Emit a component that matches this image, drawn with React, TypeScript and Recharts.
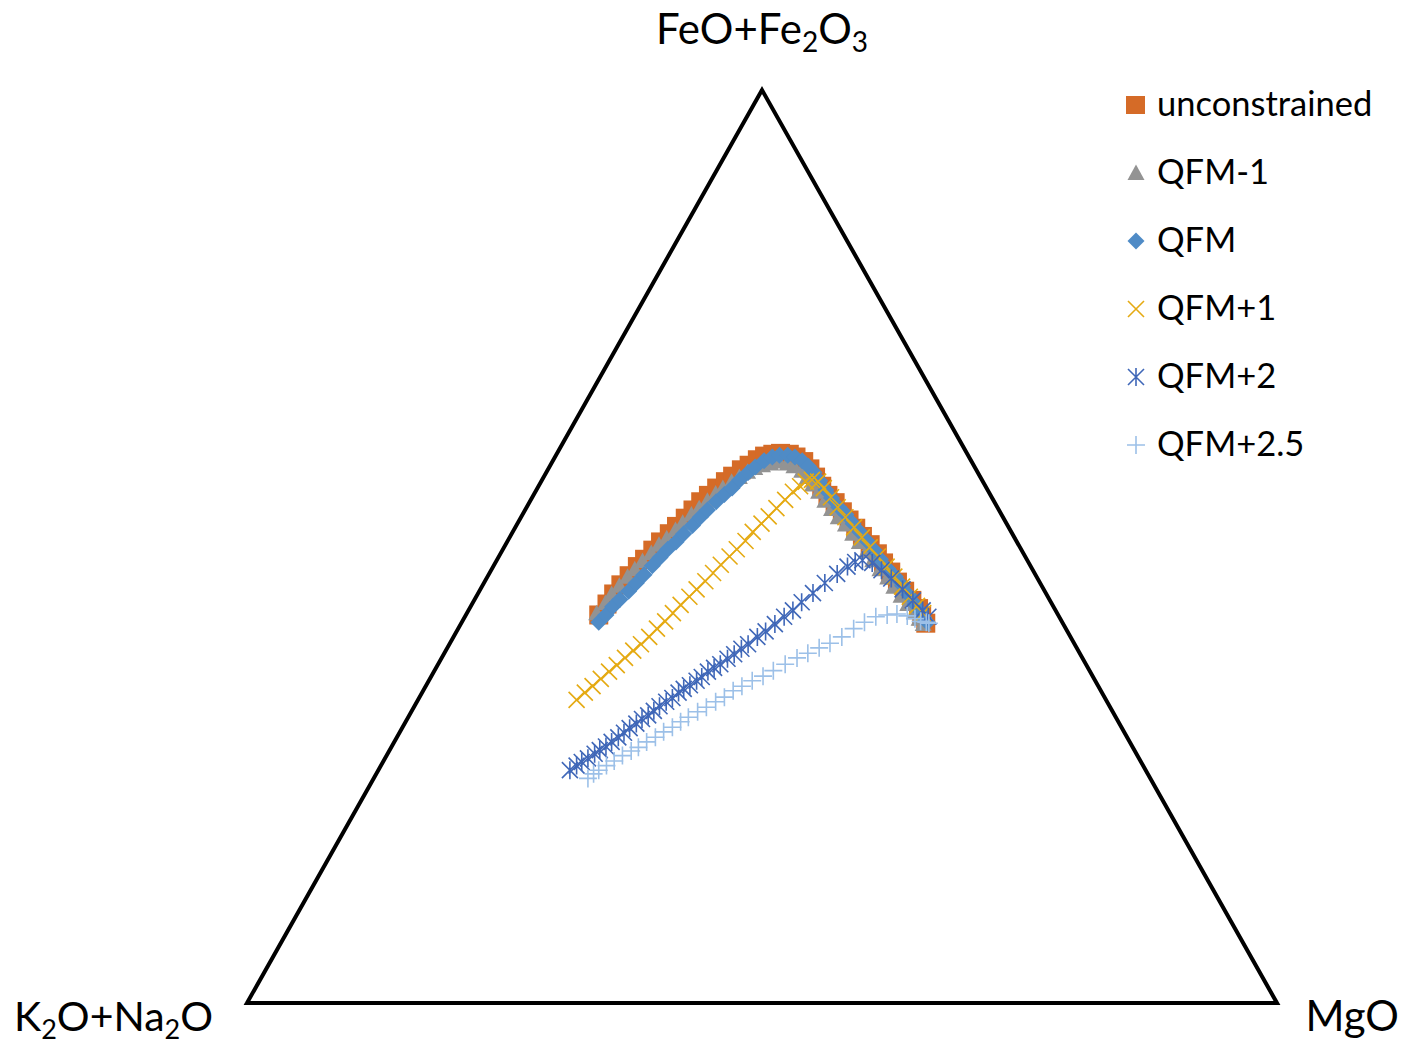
import React from 'react';
import { ScatterChart, Scatter, XAxis, YAxis } from 'recharts';

// Each point: [FeO+Fe2O3, MgO] in wt% of the AFM total; K2O+Na2O is the rest.
type Pt = [number, number];

const apexes: Pt[] = [[0, 0], [100, 0], [0, 100], [0, 0], [100, 0]];

const unconstrained: Pt[] = [
  [42.5, 12.9], [43.7, 13.1], [44.8, 13.2], [45.8, 13.4], [46.8, 13.7], [47.8, 14.0], [48.6, 14.3],
  [49.6, 14.6], [50.5, 14.9], [51.4, 15.3], [52.2, 15.6], [53.1, 16.0], [54.0, 16.3], [54.9, 16.6],
  [55.6, 17.0], [56.4, 17.4], [57.1, 17.9], [57.7, 18.3], [58.4, 18.8], [58.9, 19.3], [59.5, 19.8],
  [59.9, 20.3], [60.1, 21.0], [60.2, 21.7], [60.1, 22.6], [59.8, 23.4], [59.3, 24.4], [58.5, 25.4],
  [57.6, 26.4], [56.6, 27.5], [55.6, 28.6], [54.8, 29.7], [53.8, 30.9], [52.9, 32.0], [52.0, 33.1],
  [51.1, 34.2], [50.2, 35.4], [49.2, 36.6], [48.2, 37.7], [47.2, 38.9], [46.1, 40.1], [45.1, 41.3],
  [44.1, 42.5], [43.2, 43.6], [42.4, 44.3], [41.6, 45.1],
];

const qfmMinus1: Pt[] = [
  [42.7, 12.6], [43.8, 12.9], [44.8, 13.0], [45.7, 13.3], [46.7, 13.6], [47.5, 13.9], [48.4, 14.2],
  [49.3, 14.6], [50.2, 14.9], [50.9, 15.3], [51.8, 15.7], [52.6, 16.0], [53.5, 16.4], [54.2, 16.8],
  [55.0, 17.2], [55.8, 17.6], [56.4, 18.0], [57.1, 18.5], [57.6, 19.0], [58.2, 19.5], [58.6, 20.0],
  [58.9, 20.6], [59.1, 21.3], [59.3, 22.0], [59.1, 22.9], [58.8, 23.7], [58.3, 24.7], [57.6, 25.6],
  [56.8, 26.5], [56.0, 27.5], [55.0, 28.6], [54.1, 29.7], [53.2, 30.8], [52.4, 31.9], [51.4, 33.1],
  [50.5, 34.2], [49.5, 35.4], [48.5, 36.5], [47.5, 37.7], [46.6, 38.9], [45.6, 40.0], [44.6, 41.2],
  [43.7, 42.3], [42.8, 43.4], [42.1, 44.2], [41.5, 44.9],
];

const qfm: Pt[] = [
  [41.7, 13.3], [42.5, 13.6], [43.4, 13.8], [44.2, 14.1], [45.1, 14.5], [46.0, 14.8], [46.9, 15.1],
  [47.9, 15.4], [48.8, 15.7], [49.7, 16.0], [50.5, 16.4], [51.4, 16.7], [52.3, 17.1], [53.2, 17.4],
  [54.0, 17.7], [54.9, 18.1], [55.7, 18.5], [56.4, 18.9], [57.3, 19.2], [58.1, 19.6], [58.7, 20.0],
  [59.4, 20.5], [59.8, 21.1], [60.0, 21.7], [60.0, 22.5], [59.8, 23.3], [59.4, 24.2], [58.8, 25.1],
  [58.1, 26.0], [57.2, 27.0], [56.2, 28.1], [55.3, 29.1], [54.3, 30.3], [53.5, 31.4], [52.5, 32.6],
  [51.6, 33.7], [50.6, 34.9], [49.6, 36.1], [48.6, 37.2], [47.6, 38.4], [46.7, 39.6], [45.7, 40.8],
  [44.7, 41.9], [43.7, 43.0], [42.9, 43.9], [42.2, 44.6], [41.7, 45.2],
];

const qfmPlus1: Pt[] = [
  [33.2, 15.4], [34.0, 15.8], [34.7, 16.2], [35.5, 16.6], [36.3, 17.0], [37.0, 17.4], [37.8, 17.8],
  [38.6, 18.2], [39.3, 18.6], [40.1, 19.0], [41.0, 19.3], [41.8, 19.7], [42.7, 20.0], [43.6, 20.3],
  [44.5, 20.7], [45.3, 21.0], [46.2, 21.4], [47.1, 21.7], [48.0, 22.0], [48.9, 22.4], [49.7, 22.7],
  [50.6, 23.1], [51.6, 23.3], [52.5, 23.7], [53.3, 24.0], [54.2, 24.3], [55.1, 24.7], [56.0, 25.0],
  [56.6, 25.4], [57.1, 25.7], [57.3, 26.2], [57.1, 26.9], [56.4, 27.8], [55.4, 29.0], [54.3, 30.2],
  [53.2, 31.5], [52.1, 32.9], [51.0, 34.2], [49.9, 35.5], [48.9, 36.8], [47.8, 38.2], [46.7, 39.5],
  [45.6, 40.8], [44.5, 42.1], [43.5, 43.3], [42.7, 44.3],
];

const qfmPlus2: Pt[] = [
  [25.5, 18.6], [26.0, 19.0], [26.4, 19.3], [26.8, 19.7], [27.3, 20.1], [27.7, 20.4], [28.1, 20.8],
  [28.6, 21.1], [29.1, 21.5], [29.6, 21.8], [30.1, 22.1], [30.6, 22.5], [31.1, 22.8], [31.5, 23.2],
  [32.0, 23.5], [32.5, 23.8], [33.0, 24.2], [33.4, 24.6], [34.0, 24.9], [34.4, 25.2], [34.8, 25.6],
  [35.3, 26.0], [35.7, 26.3], [36.3, 26.6], [36.7, 27.0], [37.1, 27.4], [37.7, 27.8], [38.2, 28.2],
  [38.8, 28.6], [39.3, 29.0], [40.1, 29.5], [40.7, 30.0], [41.5, 30.5], [42.3, 31.0], [43.0, 31.5],
  [43.9, 31.9], [44.9, 32.5], [46.0, 33.1], [47.0, 33.8], [47.8, 34.4], [48.3, 34.9], [48.5, 35.5],
  [48.2, 36.6], [47.4, 37.9], [46.5, 39.3], [45.3, 41.0], [44.1, 42.6], [43.0, 44.1], [42.3, 45.0],
];

const qfmPlus25: Pt[] = [
  [24.6, 20.8], [25.1, 21.1], [25.5, 21.4], [26.0, 21.9], [26.5, 22.4], [27.1, 22.9], [27.6, 23.5],
  [28.0, 24.0], [28.6, 24.5], [29.1, 25.1], [29.7, 25.6], [30.2, 26.2], [30.8, 26.7], [31.3, 27.2],
  [31.9, 27.8], [32.4, 28.4], [33.0, 29.0], [33.5, 29.6], [34.2, 30.1], [34.7, 30.7], [35.3, 31.4],
  [35.8, 32.2], [36.4, 32.9], [37.1, 33.7], [37.8, 34.5], [38.3, 35.3], [38.9, 36.1], [39.4, 36.9],
  [40.1, 37.7], [41.0, 38.4], [41.7, 39.1], [42.3, 39.9], [42.5, 40.9], [42.6, 41.8], [42.4, 42.9],
  [42.1, 43.8], [41.8, 44.5], [41.7, 45.1], [41.6, 45.4],
];

type MarkKind = 'square' | 'triangle' | 'diamond' | 'x' | 'star' | 'plus';

const series: { name: string; data: Pt[]; color: string; mark: MarkKind }[] = [
  { name: 'unconstrained', data: unconstrained, color: '#D56B27', mark: 'square' },
  { name: 'QFM-1', data: qfmMinus1, color: '#939393', mark: 'triangle' },
  { name: 'QFM', data: qfm, color: '#4F8BC6', mark: 'diamond' },
  { name: 'QFM+1', data: qfmPlus1, color: '#E5AA12', mark: 'x' },
  { name: 'QFM+2', data: qfmPlus2, color: '#3F67B8', mark: 'star' },
  { name: 'QFM+2.5', data: qfmPlus25, color: '#9CC0E8', mark: 'plus' },
];

// ternary -> cartesian: MgO apex at right, FeO+Fe2O3 apex on top
const toXY = (pts: Pt[]) => pts.map(([f, m]) => ({ x: m + f / 2, y: f }));

const FONT = 'Lato, "Open Sans", sans-serif';

const Mark = ({ kind, cx, cy, color }: { kind: MarkKind; cx: number; cy: number; color: string }) => {
  switch (kind) {
    case 'square':
      return <rect x={cx - 9.5} y={cy - 9.5} width={19} height={19} fill={color} />;
    case 'triangle':
      return <polygon points={`${cx},${cy - 8.5} ${cx + 8.5},${cy + 7} ${cx - 8.5},${cy + 7}`} fill={color} />;
    case 'diamond':
      return <polygon points={`${cx},${cy - 8.5} ${cx + 8.5},${cy} ${cx},${cy + 8.5} ${cx - 8.5},${cy}`} fill={color} />;
    case 'x':
      return (
        <path d={`M${cx - 8},${cy - 8}L${cx + 8},${cy + 8}M${cx + 8},${cy - 8}L${cx - 8},${cy + 8}`}
          stroke={color} strokeWidth={1.6} fill="none" />
      );
    case 'star':
      return (
        <path d={`M${cx - 8},${cy - 8}L${cx + 8},${cy + 8}M${cx + 8},${cy - 8}L${cx - 8},${cy + 8}M${cx},${cy - 9}L${cx},${cy + 9}`}
          stroke={color} strokeWidth={1.6} fill="none" />
      );
    default:
      return (
        <path d={`M${cx - 9},${cy}L${cx + 9},${cy}M${cx},${cy - 9}L${cx},${cy + 9}`}
          stroke={color} strokeWidth={1.6} fill="none" />
      );
  }
};

const App = () => (
  <div style={{ position: 'absolute', left: 0, top: 0, width: 1406, height: 1049, background: '#fff' }}>
    <ScatterChart width={1406} height={1049} margin={{ top: 90, right: 129, bottom: 46, left: 247 }}>
      <XAxis type="number" dataKey="x" domain={[0, 100]} hide />
      <YAxis type="number" dataKey="y" domain={[0, 100]} hide />
      <Scatter
        data={toXY(apexes)}
        line={{ stroke: '#000', strokeWidth: 4, strokeLinejoin: 'miter' }}
        shape={() => <g />}
        isAnimationActive={false}
      />
      {series.map((s) => (
        <Scatter
          key={s.name}
          name={s.name}
          data={toXY(s.data)}
          isAnimationActive={false}
          shape={(p: any) => <Mark kind={s.mark} cx={p.cx} cy={p.cy} color={s.color} />}
        />
      ))}
    </ScatterChart>

    <svg width={1406} height={1049} style={{ position: 'absolute', left: 0, top: 0, pointerEvents: 'none' }}
      fontFamily={FONT} fill="#000">
      <text x={762} y={44} fontSize={42} textAnchor="middle">
        <tspan>FeO+Fe</tspan>
        <tspan fontSize={28} dy={8}>2</tspan>
        <tspan dy={-8}>O</tspan>
        <tspan fontSize={28} dy={8}>3</tspan>
      </text>
      <text x={14} y={1031} fontSize={41}>
        <tspan>K</tspan>
        <tspan fontSize={27} dy={8}>2</tspan>
        <tspan dy={-8}>O+Na</tspan>
        <tspan fontSize={27} dy={8}>2</tspan>
        <tspan dy={-8}>O</tspan>
      </text>
      <text x={1399} y={1031} fontSize={42} textAnchor="end">MgO</text>

      {series.map((s, i) => {
        const cy = 105 + i * 68;
        return (
          <g key={s.name}>
            {s.mark === 'square'
              ? <rect x={1126} y={cy - 9} width={19} height={18} fill={s.color} />
              : <Mark kind={s.mark} cx={1136} cy={cy} color={s.color} />}
            <text x={1157} y={cy + 11} fontSize={34.5}>{s.name}</text>
          </g>
        );
      })}
    </svg>
  </div>
);

export default App;
